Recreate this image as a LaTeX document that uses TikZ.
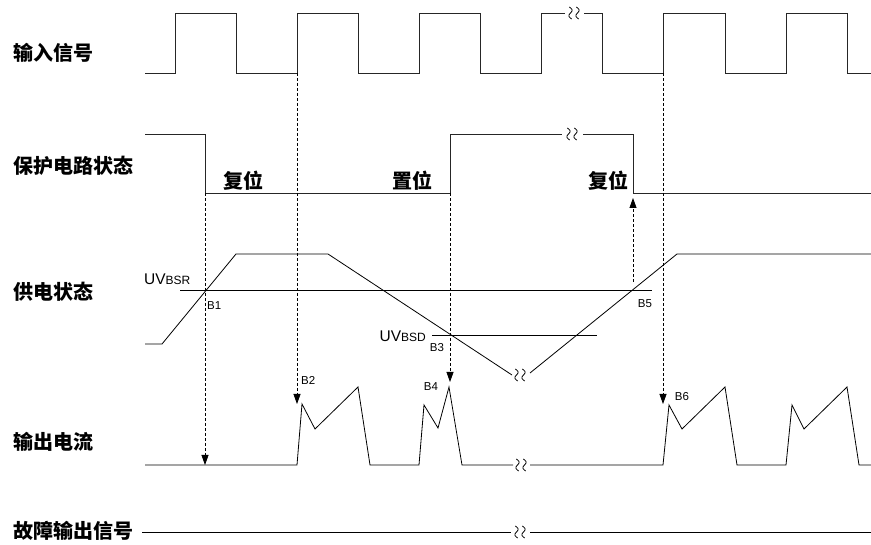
\documentclass[tikz,border=0pt]{standalone}
\usepackage{fontspec}
\setmainfont{Liberation Sans}
\newfontfamily\cjk{Noto Sans CJK SC}
\usetikzlibrary{arrows.meta}
\tikzset{
  sig/.style={line width=0.9pt,draw=black!85},
  thr/.style={line width=0.8pt,draw=black},
  guide/.style={line width=0.8pt,dash pattern=on 3pt off 2pt,-{Triangle[width=7pt,length=10pt]}},
  lbl/.style={font=\cjk\bfseries\fontsize{20}{22}\selectfont,anchor=west,inner sep=0pt},
  st/.style={font=\cjk\bfseries\fontsize{20}{22}\selectfont,inner sep=0pt},
  bl/.style={font=\fontsize{11.5}{12}\selectfont,inner sep=0pt},
  uv/.style={anchor=base west,inner sep=0pt},
  brk/.pic={
    \draw[line width=0.8pt] plot[smooth,domain=-6:6,samples=13] ({-3.5+0.2*\x-2.2*sin(30*\x)},{\x});
    \draw[line width=0.8pt] plot[smooth,domain=-6:6,samples=13] ({3.5+0.2*\x-2.2*sin(30*\x)},{\x});
  }
}
\begin{document}
\begin{tikzpicture}[x=1pt,y=-1pt]
\useasboundingbox (0,0) rectangle (871,545);

% row labels
\node[lbl] (in)  at (13,53)  {输入信号};
\node[lbl] (pr)  at (13,166) {保护电路状态};
\node[lbl] (sup) at (13,292) {供电状态};
\node[lbl] (out) at (13,442) {输出电流};
\node[lbl] (flt) at (13,531) {故障输出信号};

% input signal
\draw[sig] (145,73) -- (175,73) -- (175,13) -- (236,13) -- (236,73) -- (297,73) -- (297,13)
  -- (358,13) -- (358,73) -- (419,73) -- (419,13) -- (480,13) -- (480,73) -- (541,73)
  -- (541,13) -- (565,13);
\pic at (574,13) {brk};
\draw[sig] (584,13) -- (602,13) -- (602,73) -- (663,73) -- (663,13) -- (725,13) -- (725,73)
  -- (786,73) -- (786,13) -- (847,13) -- (847,73) -- (871,73);

% protection state
\draw[sig] (145,134) -- (205,134) -- (205,193) -- (450,193) -- (450,134) -- (562,134);
\pic at (572,134) {brk};
\draw[sig] (583,134) -- (633,134) -- (633,193) -- (871,193);
\node[st] (r1) at (243,181) {复位};
\node[st] (s1) at (412,181) {置位};
\node[st] (r2) at (608,181) {复位};

% supply state
\draw[thr] (180,290) -- (652,290);
\draw[thr] (432,335) -- (597,335);
\node[uv] (uvr) at (144,285) {\fontsize{15.5}{16}\selectfont UV\fontsize{12}{12}\selectfont BSR};
\node[uv,anchor=base east] (uvd) at (426,342) {\fontsize{15.5}{16}\selectfont UV\fontsize{12}{12}\selectfont BSD};
\draw[thr] (145,344) -- (162,344) -- (236,254) -- (328,254) -- (512,375);
\pic at (520,375) {brk};
\draw[thr] (530,373) -- (677,254) -- (871,254);

% output current
\draw[thr] (145,465) -- (297,465) -- (302,404) -- (315,429) -- (358,387) -- (370,465)
  -- (419,465) -- (424,405) -- (438,428) -- (449,387) -- (462,465) -- (513,465);
\pic at (521,465) {brk};
\draw[thr] (530,465) -- (663,465) -- (669,405) -- (682,429) -- (725,387) -- (737,465)
  -- (786,465) -- (792,405) -- (804,429) -- (847,387) -- (859,465) -- (871,465);

% fault output
\draw[thr] (142,532) -- (511,532);
\pic at (520,532) {brk};
\draw[thr] (530,532) -- (871,532);

% guide coordinates
\coordinate (g1a) at (205,193); \coordinate (g1b) at (205,465);
\coordinate (g2a) at (297,73);  \coordinate (g2b) at (297,404);
\coordinate (g3a) at (450,193); \coordinate (g3b) at (450,382);
\coordinate (g4a) at (633,282); \coordinate (g4b) at (633,198);
\coordinate (g5a) at (663,73);  \coordinate (g5b) at (663,404);
\draw[guide] (g1a) -- (g1b);
\draw[guide] (g2a) -- (g2b);
\draw[guide] (g3a) -- (g3b);
\draw[guide] (g4a) -- (g4b);
\draw[guide] (g5a) -- (g5b);

% point labels
\node[bl,anchor=west] (b1) at (207,306) {B1};
\node[bl,anchor=west] (b2) at (301,380) {B2};
\node[bl] (b3) at (437,348) {B3};
\node[bl] (b4) at (431,387) {B4};
\node[bl] (b5) at (645,304) {B5};
\node[bl] (b6) at (682,397) {B6};
\end{tikzpicture}
\end{document}
